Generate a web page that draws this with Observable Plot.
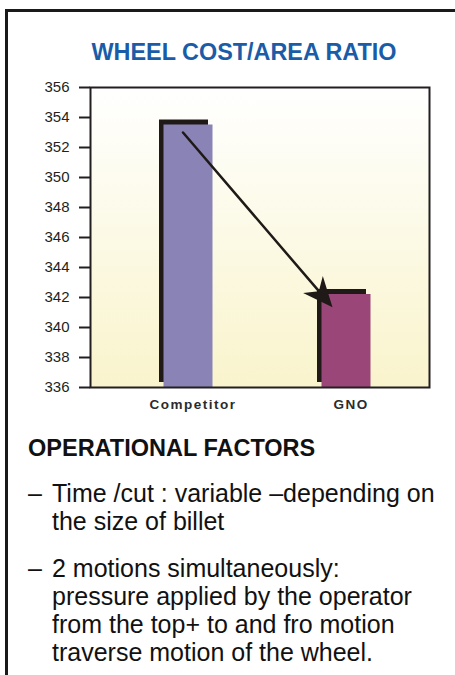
<!DOCTYPE html>
<html>
<head>
<meta charset="utf-8">
<script src="https://cdn.jsdelivr.net/npm/d3@7"></script>
<script src="https://cdn.jsdelivr.net/npm/@observablehq/plot@0.6"></script>
<style>
  html, body { margin: 0; padding: 0; background: #fff; width: 455px; height: 675px; overflow: hidden; }
  body { position: relative; font-family: "Liberation Sans", Arial, sans-serif; color: #111; }
  #border { position: absolute; left: 5px; top: 9px; width: 470px; height: 700px;
            border-left: 3px solid #1a1a1a; border-top: 3px solid #1a1a1a; }
  #title { position: absolute; left: 0; width: 488px; top: 39.9px; text-align: center;
           font-size: 23.4px; line-height: 24px; font-weight: 700; color: #1b5ca8; white-space: nowrap; }
  #chart { position: absolute; left: 0; top: 70px; }
  #chart svg g[aria-label^="x-axis"] text { font-weight: 700; font-size: 13.5px; letter-spacing: 1.5px; fill: #2b2b2b; }
  #chart svg g[aria-label^="y-axis"] text { font-size: 15px; }
  #chart svg g[aria-label^="y-axis"] line, #chart svg g[aria-label="y-axis tick"] path { stroke-width: 2px; }
  #heading { position: absolute; left: 28px; top: 436.2px; font-size: 23.5px; line-height: 24px; font-weight: 700; white-space: nowrap; }
  .bullet { position: absolute; left: 28px; font-size: 25px; line-height: 28px; white-space: nowrap; }
  .bullet .dash { position: absolute; left: 0; top: 0; }
  .bullet .txt { padding-left: 24px; }
</style>
</head>
<body>
<div id="border"></div>
<div id="title"></div>
<div id="chart"></div>
<div id="heading"></div>
<div id="b1" class="bullet" style="top:479px"></div>
<div id="b2" class="bullet" style="top:554px"></div>
<script>
// ---- data ----
const titleText = "WHEEL COST/AREA RATIO";
const categories = ["Competitor", "GNO"];
const ratios = [353.5, 342.2];
const baseline = 336;
const yDomain = [336, 356];
const yTicks = [336, 338, 340, 342, 344, 346, 348, 350, 352, 354, 356];
const barColors = ["#8a84b6", "#9b4678"];
const arrowCategories = ["Competitor", "GNO"];
const arrowValues = [353, 340.7];
const headingText = "OPERATIONAL FACTORS";
const bullet1Lines = ["Time /cut : variable \u2013depending on", "the size of billet"];
const bullet2Lines = ["2 motions simultaneously:", "pressure applied by the operator", "from the top+ to and fro motion", "traverse motion of the wheel."];

const data = categories.map((c, i) => ({category: c, value: ratios[i]}));

// stealth arrowhead symbol (tip set back by the arrow's inset)
const headAngle = 49.3 * Math.PI / 180;
const headShape = [[-13, 0], [-43, -13], [-34, 0], [-43, 13]];
const stealth = {
  draw(context) {
    const c = Math.cos(headAngle), s = Math.sin(headAngle);
    headShape.forEach(([px, py], i) => {
      const X = px * c - py * s, Y = px * s + py * c;
      if (i === 0) context.moveTo(X, Y); else context.lineTo(X, Y);
    });
    context.closePath();
  }
};

const ink = "#1f1a17";

const svg = Plot.plot({
  width: 455,
  height: 345,
  marginTop: 17,
  marginBottom: 28,
  marginLeft: 90,
  marginRight: 26,
  style: {fontFamily: "'Liberation Sans', Arial, sans-serif", fontSize: "15px", color: "#231f20", background: "transparent", overflow: "visible"},
  x: {domain: categories, paddingInner: 0.691, paddingOuter: 0.415, align: 0.589, label: null, tickSize: 0, tickPadding: 12},
  y: {domain: yDomain, ticks: yTicks, tickSize: 11, tickPadding: 10, label: null, tickFormat: d => String(d)},
  color: {domain: categories, range: barColors},
  marks: [
    Plot.frame({fill: "url(#bgGrad)", stroke: "none"}),
    Plot.barY(data, {x: "category", y1: () => baseline, y2: "value", fill: ink, dx: -9, dy: -5}),
    Plot.barY(data, {x: "category", y1: () => baseline, y2: "value", fill: "category", dx: -4.5}),
    Plot.arrow([0], {
      x1: () => arrowCategories[0], y1: () => arrowValues[0],
      x2: () => arrowCategories[1], y2: () => arrowValues[1],
      dx: -10, stroke: ink, strokeWidth: 2.5, headLength: 0, insetEnd: 34
    }),
    Plot.dot([0], {x: () => arrowCategories[1], y: () => arrowValues[1], dx: -10, symbol: stealth, fill: ink, stroke: "none"}),
    Plot.frame({stroke: "#231f20", strokeWidth: 2})
  ]
});

// background gradient of the plot area
const ns = "http://www.w3.org/2000/svg";
const defs = document.createElementNS(ns, "defs");
const lg = document.createElementNS(ns, "linearGradient");
lg.setAttribute("id", "bgGrad");
lg.setAttribute("x1", "0"); lg.setAttribute("y1", "0"); lg.setAttribute("x2", "0"); lg.setAttribute("y2", "1");
[["0", "#ffffff"], ["1", "#f9f4cc"]].forEach(([o, c]) => {
  const st = document.createElementNS(ns, "stop");
  st.setAttribute("offset", o); st.setAttribute("stop-color", c);
  lg.appendChild(st);
});
defs.appendChild(lg);
svg.insertBefore(defs, svg.firstChild);
document.getElementById("chart").appendChild(svg);

// texts
document.getElementById("title").textContent = titleText;
document.getElementById("heading").textContent = headingText;
function fillBullet(id, lines) {
  const el = document.getElementById(id);
  const dash = document.createElement("span");
  dash.className = "dash"; dash.textContent = "\u2013";
  el.appendChild(dash);
  lines.forEach(l => {
    const d = document.createElement("div");
    d.className = "txt"; d.textContent = l;
    el.appendChild(d);
  });
}
fillBullet("b1", bullet1Lines);
fillBullet("b2", bullet2Lines);
</script>
</body>
</html>
